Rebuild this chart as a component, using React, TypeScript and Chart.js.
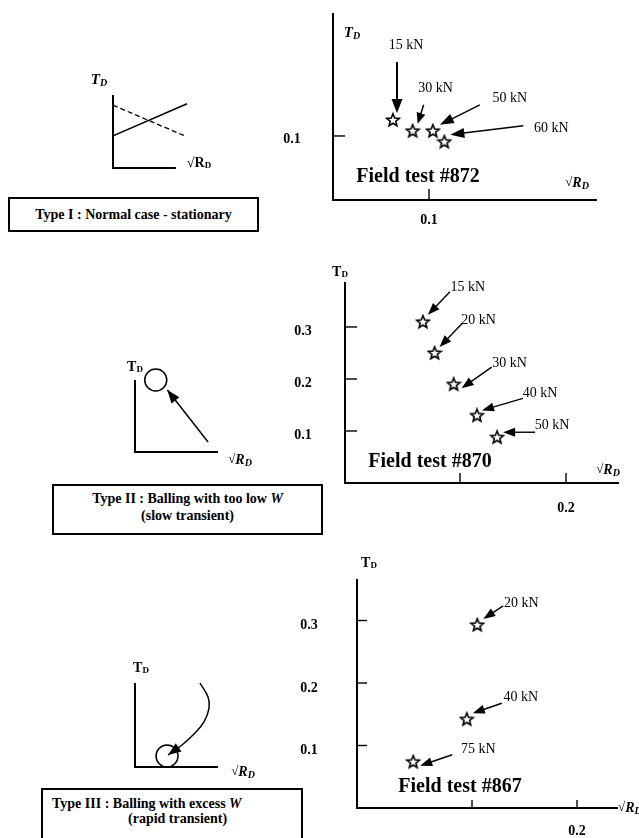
import React, { useEffect, useRef } from "react";
import { Chart, registerables } from "chart.js";
Chart.register(...registerables);

const SERIF = '"Liberation Serif", "Times New Roman", Times, serif';

// ---------- Field test #872 ----------
const loads872 = ["15 kN", "30 kN", "50 kN", "60 kN"];
const rd872 = [0.0625, 0.083, 0.104, 0.116];
const td872 = [0.125, 0.108, 0.108, 0.091];
const xTicks872 = [0.1];
const xTickLabels872 = ["0.1"];
const yTicks872 = [0.1];
const yTickLabels872 = ["0.1"];

// ---------- Field test #870 ----------
const loads870 = ["15 kN", "20 kN", "30 kN", "40 kN", "50 kN"];
const rd870 = [0.065, 0.076, 0.094, 0.116, 0.135];
const td870 = [0.31, 0.25, 0.19, 0.13, 0.088];
const xTicks870 = [0.1, 0.2];
const xTickLabels870 = ["", "0.2"];
const yTicks870 = [0.1, 0.2, 0.3];
const yTickLabels870 = ["0.1", "0.2", "0.3"];

// ---------- Field test #867 ----------
const loads867 = ["20 kN", "40 kN", "75 kN"];
const rd867 = [0.105, 0.095, 0.044];
const td867 = [0.293, 0.142, 0.074];
const xTicks867 = [0.1, 0.2];
const xTickLabels867 = ["", "0.2"];
const yTicks867 = [0.1, 0.2, 0.3];
const yTickLabels867 = ["0.1", "0.2", "0.3"];

// ---------- Schematic curves (relative units 0..1) ----------
const typeIRisingX = [0, 1];
const typeIRisingY = [0.44, 0.88];
const typeIFallingX = [0, 0.97];
const typeIFallingY = [0.86, 0.44];
const typeIIBallX = [0.25];
const typeIIBallY = [1.0];
const typeIIPathX = [0.88, 0.39];
const typeIIPathY = [0.14, 0.86];
const typeIIIBallX = [0.386];
const typeIIIBallY = [0.131];
const typeIIIPathX = [0.783, 0.88, 0.892, 0.831, 0.723, 0.566, 0.398];
const typeIIIPathY = [1.0, 0.833, 0.702, 0.536, 0.405, 0.262, 0.143];

// ---------- helpers ----------
type Run = { t: string; f: string; dy?: number };

function drawRuns(ctx: CanvasRenderingContext2D, x: number, y: number, runs: Run[], align: "left" | "center" = "center") {
  let total = 0;
  const widths = runs.map((r) => {
    ctx.font = r.f;
    const w = ctx.measureText(r.t).width;
    total += w;
    return w;
  });
  let cx = align === "center" ? x - total / 2 : x;
  ctx.textAlign = "left";
  ctx.textBaseline = "middle";
  runs.forEach((r, i) => {
    ctx.font = r.f;
    ctx.fillText(r.t, cx, y + (r.dy || 0));
    cx += widths[i];
  });
}

function drawArrow(ctx: CanvasRenderingContext2D, x1: number, y1: number, x2: number, y2: number, lw: number, head: number, hw: number) {
  const ang = Math.atan2(y2 - y1, x2 - x1);
  const bx = x2 - head * Math.cos(ang);
  const by = y2 - head * Math.sin(ang);
  ctx.lineWidth = lw;
  ctx.beginPath();
  ctx.moveTo(x1, y1);
  ctx.lineTo(bx + 0.5 * Math.cos(ang), by + 0.5 * Math.sin(ang));
  ctx.stroke();
  ctx.beginPath();
  ctx.moveTo(x2, y2);
  ctx.lineTo(bx + hw * Math.sin(ang), by - hw * Math.cos(ang));
  ctx.lineTo(bx - hw * Math.sin(ang), by + hw * Math.cos(ang));
  ctx.closePath();
  ctx.fill();
}

function makeStar(): HTMLCanvasElement {
  const c = document.createElement("canvas");
  c.width = 16;
  c.height = 16;
  const g = c.getContext("2d")!;
  g.beginPath();
  for (let i = 0; i < 10; i++) {
    const r = i % 2 === 0 ? 6.6 : 2.9;
    const a = -Math.PI / 2 + (i * Math.PI) / 5;
    const px = 8 + r * Math.cos(a);
    const py = 8.4 + r * Math.sin(a);
    if (i === 0) g.moveTo(px, py);
    else g.lineTo(px, py);
  }
  g.closePath();
  g.fillStyle = "#fff";
  g.fill();
  g.lineWidth = 1.6;
  g.strokeStyle = "#000";
  g.lineJoin = "miter";
  g.stroke();
  return c;
}

const F = (s: string) => `${s} ${SERIF}`;
const tdItalic: Run[] = [
  { t: "T", f: F("italic bold 15px") },
  { t: "D", f: F("italic bold 10px"), dy: 3 },
];
const tdUpright: Run[] = [
  { t: "T", f: F("bold 14px") },
  { t: "D", f: F("bold 9px"), dy: 3 },
];
const rdItalic: Run[] = [
  { t: "√", f: F("13px") },
  { t: "R", f: F("italic bold 14px") },
  { t: "D", f: F("italic bold 10px"), dy: 3 },
];
const rdUpright: Run[] = [
  { t: "√R", f: F("bold 14px") },
  { t: "D", f: F("bold 9px"), dy: 3 },
];

type Note = { tip: [number, number]; tail: [number, number]; label: [number, number]; lw?: number; head?: number; hw?: number };

type FieldSpec = {
  pad: { left: number; top: number; right: number; bottom: number };
  xMin: number; xMax: number; yMin: number; yMax: number;
  rd: number[]; td: number[]; loads: string[];
  xTicks: number[]; xTickLabels: string[]; yTicks: number[]; yTickLabels: string[];
  yTickLen: number; xTickLen: number; yLabelDx: number; yLabelDy: number; xLabelDy: number;
  notes: Note[];
  title: string; titlePos: [number, number];
  tdRuns: Run[]; tdPos: [number, number];
  rdRuns: Run[]; rdPos: [number, number]; rdAlign: "left" | "center";
};

function fieldConfig(p: FieldSpec) {
  const star = makeStar();
  const plugin = {
    id: "fieldFigure",
    beforeDatasetsDraw(chart: any) {
      const { ctx, chartArea: a, scales } = chart;
      const xs = scales.x, ys = scales.y;
      ctx.save();
      ctx.strokeStyle = "#000";
      ctx.fillStyle = "#000";
      ctx.lineWidth = 2;
      ctx.beginPath();
      ctx.moveTo(a.left, a.top);
      ctx.lineTo(a.left, a.bottom);
      ctx.lineTo(a.right, a.bottom);
      ctx.stroke();
      ctx.lineWidth = 1.4;
      p.yTicks.forEach((v, i) => {
        const py = ys.getPixelForValue(v);
        ctx.beginPath();
        ctx.moveTo(a.left, py);
        ctx.lineTo(a.left + p.yTickLen, py);
        ctx.stroke();
        ctx.font = F("bold 14px");
        ctx.textAlign = "center";
        ctx.textBaseline = "middle";
        ctx.fillText(p.yTickLabels[i], a.left + p.yLabelDx, py + p.yLabelDy);
      });
      p.xTicks.forEach((v, i) => {
        const px = xs.getPixelForValue(v);
        ctx.beginPath();
        ctx.moveTo(px, a.bottom);
        ctx.lineTo(px, a.bottom - p.xTickLen);
        ctx.stroke();
        ctx.font = F("bold 14px");
        ctx.textAlign = "center";
        ctx.textBaseline = "middle";
        if (p.xTickLabels[i]) ctx.fillText(p.xTickLabels[i], px, a.bottom + p.xLabelDy);
      });
      ctx.restore();
    },
    afterDatasetsDraw(chart: any) {
      const { ctx, chartArea: a } = chart;
      const pts = chart.getDatasetMeta(0).data;
      ctx.save();
      ctx.strokeStyle = "#000";
      ctx.fillStyle = "#000";
      p.notes.forEach((n, i) => {
        const pt = pts[i];
        drawArrow(ctx, pt.x + n.tail[0], pt.y + n.tail[1], pt.x + n.tip[0], pt.y + n.tip[1], n.lw ?? 1.4, n.head ?? 12, n.hw ?? 4.5);
        ctx.font = F("14px");
        ctx.textAlign = "center";
        ctx.textBaseline = "middle";
        ctx.fillText(p.loads[i], pt.x + n.label[0], pt.y + n.label[1]);
      });
      ctx.font = F("bold 20px");
      ctx.textAlign = "center";
      ctx.textBaseline = "middle";
      ctx.fillText(p.title, a.left + p.titlePos[0], a.bottom + p.titlePos[1]);
      drawRuns(ctx, a.left + p.tdPos[0], a.top + p.tdPos[1], p.tdRuns);
      drawRuns(ctx, a.right + p.rdPos[0], a.bottom + p.rdPos[1], p.rdRuns, p.rdAlign);
      ctx.restore();
    },
  };
  return {
    type: "scatter",
    data: {
      datasets: [
        {
          data: p.rd.map((x, i) => ({ x, y: p.td[i] })),
          pointStyle: star,
          pointRadius: 6,
          clip: false,
        },
      ],
    },
    options: {
      responsive: false,
      animation: false,
      events: [],
      layout: { padding: p.pad },
      scales: {
        x: { type: "linear", min: p.xMin, max: p.xMax, display: false },
        y: { type: "linear", min: p.yMin, max: p.yMax, display: false },
      },
      plugins: { legend: { display: false }, tooltip: { enabled: false } },
    },
    plugins: [plugin],
  };
}

type SchemSpec = {
  pad: { left: number; top: number; right: number; bottom: number };
  datasets: any[];
  xAxisEnd: number;
  arrowOn?: number;
  tdRuns: Run[]; tdPos: [number, number];
  rdRuns: Run[]; rdPos: [number, number];
};

function schemConfig(p: SchemSpec) {
  const plugin = {
    id: "schemFigure",
    beforeDatasetsDraw(chart: any) {
      const { ctx, chartArea: a, scales } = chart;
      ctx.save();
      ctx.strokeStyle = "#000";
      ctx.lineWidth = 2;
      ctx.beginPath();
      ctx.moveTo(a.left, a.top);
      ctx.lineTo(a.left, a.bottom);
      ctx.lineTo(scales.x.getPixelForValue(p.xAxisEnd), a.bottom);
      ctx.stroke();
      ctx.restore();
    },
    afterDatasetsDraw(chart: any) {
      const { ctx, chartArea: a } = chart;
      ctx.save();
      ctx.fillStyle = "#000";
      ctx.strokeStyle = "#000";
      if (p.arrowOn !== undefined) {
        const pts = chart.getDatasetMeta(p.arrowOn).data;
        const last = pts[pts.length - 1];
        const prev = pts[pts.length - 2];
        const ang = Math.atan2(last.y - prev.y, last.x - prev.x);
        const head = 13, hw = 5;
        const bx = last.x - head * Math.cos(ang);
        const by = last.y - head * Math.sin(ang);
        ctx.beginPath();
        ctx.moveTo(last.x, last.y);
        ctx.lineTo(bx + hw * Math.sin(ang), by - hw * Math.cos(ang));
        ctx.lineTo(bx - hw * Math.sin(ang), by + hw * Math.cos(ang));
        ctx.closePath();
        ctx.fill();
      }
      drawRuns(ctx, a.left + p.tdPos[0], a.top + p.tdPos[1], p.tdRuns);
      drawRuns(ctx, a.right + p.rdPos[0], a.bottom + p.rdPos[1], p.rdRuns);
      ctx.restore();
    },
  };
  return {
    type: "scatter",
    data: { datasets: p.datasets },
    options: {
      responsive: false,
      animation: false,
      events: [],
      layout: { padding: p.pad },
      scales: {
        x: { type: "linear", min: 0, max: 1, display: false },
        y: { type: "linear", min: 0, max: 1, display: false },
      },
      plugins: { legend: { display: false }, tooltip: { enabled: false } },
    },
    plugins: [plugin],
  };
}

const pts = (xs: number[], ys: number[]) => xs.map((x, i) => ({ x, y: ys[i] }));
const lineDs = (xs: number[], ys: number[], extra: any = {}) => ({
  data: pts(xs, ys),
  showLine: true,
  pointRadius: 0,
  borderColor: "#000",
  borderWidth: 1.6,
  clip: false,
  ...extra,
});
const ballDs = (xs: number[], ys: number[]) => ({
  data: pts(xs, ys),
  pointStyle: "circle",
  pointRadius: 11,
  backgroundColor: "rgba(255,255,255,0)",
  borderColor: "#000",
  borderWidth: 1.5,
  clip: false,
});

function ChartBox({ left, top, width, height, build }: { left: number; top: number; width: number; height: number; build: () => any }) {
  const ref = useRef<HTMLCanvasElement>(null);
  useEffect(() => {
    const chart = new Chart(ref.current as HTMLCanvasElement, build());
    return () => chart.destroy();
  }, []);
  return <canvas ref={ref} width={width} height={height} style={{ position: "absolute", left, top, width, height }} />;
}

const boxText: React.CSSProperties = {
  position: "absolute",
  boxSizing: "border-box",
  border: "2px solid #000",
  fontFamily: SERIF,
  fontWeight: "bold",
  fontSize: 14,
  color: "#000",
  background: "#fff",
};

export default function App() {
  return (
    <div style={{ position: "absolute", left: 0, top: 0, width: 639, height: 838, overflow: "hidden", background: "#fff" }}>
      {/* Type I schematic */}
      <ChartBox
        left={60} top={60} width={180} height={125}
        build={() =>
          schemConfig({
            pad: { left: 53, top: 35, right: 53, bottom: 17 },
            datasets: [
              lineDs(typeIRisingX, typeIRisingY),
              lineDs(typeIFallingX, typeIFallingY, { borderDash: [5, 3], borderWidth: 1.3 }),
            ],
            xAxisEnd: 0.85,
            tdRuns: tdItalic, tdPos: [-14, -15],
            rdRuns: rdUpright, rdPos: [12, -5],
          })
        }
      />
      <div style={{ ...boxText, left: 8, top: 197, width: 251, height: 35, lineHeight: "31px", textAlign: "center" }}>
        Type I : Normal case - stationary
      </div>

      {/* Type II schematic */}
      <ChartBox
        left={100} top={350} width={160} height={120}
        build={() =>
          schemConfig({
            pad: { left: 35, top: 30, right: 42, bottom: 18 },
            datasets: [ballDs(typeIIBallX, typeIIBallY), lineDs(typeIIPathX, typeIIPathY, { borderWidth: 1.5 })],
            xAxisEnd: 1,
            arrowOn: 1,
            tdRuns: tdUpright, tdPos: [0, -13],
            rdRuns: rdItalic, rdPos: [22, 8],
          })
        }
      />
      <div style={{ ...boxText, left: 52, top: 484, width: 271, height: 51, lineHeight: "17px", paddingTop: 4, textAlign: "center" }}>
        Type II : Balling with too low <i>W</i>
        <br />
        (slow transient)
      </div>

      {/* Type III schematic */}
      <ChartBox
        left={100} top={650} width={160} height={135}
        build={() =>
          schemConfig({
            pad: { left: 35, top: 33, right: 42, bottom: 18 },
            datasets: [
              ballDs(typeIIIBallX, typeIIIBallY),
              lineDs(typeIIIPathX, typeIIIPathY, { borderWidth: 1.5, tension: 0.4 }),
            ],
            xAxisEnd: 1,
            arrowOn: 1,
            tdRuns: tdUpright, tdPos: [6, -15],
            rdRuns: rdItalic, rdPos: [25, 5],
          })
        }
      />
      <div style={{ ...boxText, left: 41, top: 788, width: 262, height: 50, borderBottom: "none", lineHeight: "15px", paddingTop: 6 }}>
        <div style={{ paddingLeft: 9 }}>
          Type III : Balling with excess <i>W</i>
        </div>
        <div style={{ paddingLeft: 85 }}>(rapid transient)</div>
      </div>

      {/* Field test #872 */}
      <ChartBox
        left={280} top={0} width={359} height={240}
        build={() =>
          fieldConfig({
            pad: { left: 53, top: 13, right: 42, bottom: 40 },
            xMin: 0, xMax: 0.275, yMin: 0, yMax: 0.292,
            rd: rd872, td: td872, loads: loads872,
            xTicks: xTicks872, xTickLabels: xTickLabels872, yTicks: yTicks872, yTickLabels: yTickLabels872,
            yTickLen: 12, xTickLen: 11, yLabelDx: -41, yLabelDy: 3, xLabelDy: 20,
            notes: [
              { tip: [4, -7], tail: [4, -58], label: [13, -75], lw: 2, head: 14, hw: 5.5 },
              { tip: [5, -7], tail: [11, -26], label: [23, -43], lw: 1.5, head: 11, hw: 4.5 },
              { tip: [7, -6], tail: [47, -26], label: [77, -33], lw: 1.5, head: 14, hw: 5 },
              { tip: [6, -7], tail: [79, -16], label: [107, -13], lw: 1.5, head: 14, hw: 5 },
            ],
            title: "Field test #872", titlePos: [85, -23],
            tdRuns: tdItalic, tdPos: [19, 20],
            rdRuns: rdItalic, rdPos: [-20, -17], rdAlign: "center",
          })
        }
      />

      {/* Field test #870 */}
      <ChartBox
        left={280} top={250} width={359} height={280}
        build={() =>
          fieldConfig({
            pad: { left: 65, top: 32, right: 20, bottom: 47 },
            xMin: -0.0085, xMax: 0.25, yMin: 0, yMax: 0.3865,
            rd: rd870, td: td870, loads: loads870,
            xTicks: xTicks870, xTickLabels: xTickLabels870, yTicks: yTicks870, yTickLabels: yTickLabels870,
            yTickLen: 12, xTickLen: 10, yLabelDx: -42, yLabelDy: 4, xLabelDy: 25,
            notes: [
              { tip: [5, -7], tail: [27, -30], label: [45, -34] },
              { tip: [5, -6], tail: [28, -30], label: [44, -33] },
              { tip: [8, 4], tail: [38, -17], label: [56, -21] },
              { tip: [5, -5], tail: [46, -17], label: [63, -22] },
              { tip: [6, -5], tail: [38, -5], label: [55, -12] },
            ],
            title: "Field test #870", titlePos: [85, -21],
            tdRuns: tdUpright, tdPos: [-5, -10],
            rdRuns: rdItalic, rdPos: [-11, -13], rdAlign: "center",
          })
        }
      />

      {/* Field test #867 */}
      <ChartBox
        left={280} top={540} width={359} height={298}
        build={() =>
          fieldConfig({
            pad: { left: 77, top: 39, right: 21, bottom: 30 },
            xMin: -0.0095, xMax: 0.239, yMin: 0, yMax: 0.3664,
            rd: rd867, td: td867, loads: loads867,
            xTicks: xTicks867, xTickLabels: xTickLabels867, yTicks: yTicks867, yTickLabels: yTickLabels867,
            yTickLen: 10, xTickLen: 8, yLabelDx: -48, yLabelDy: 5, xLabelDy: 23,
            notes: [
              { tip: [6, -6], tail: [26, -19], label: [44, -22] },
              { tip: [6, -6], tail: [35, -16], label: [54, -22] },
              { tip: [7, 4], tail: [39, -7], label: [65, -12] },
            ],
            title: "Field test #867", titlePos: [103, -21],
            tdRuns: tdUpright, tdPos: [12, -16],
            rdRuns: rdItalic, rdPos: [0, 0], rdAlign: "left",
          })
        }
      />
    </div>
  );
}
